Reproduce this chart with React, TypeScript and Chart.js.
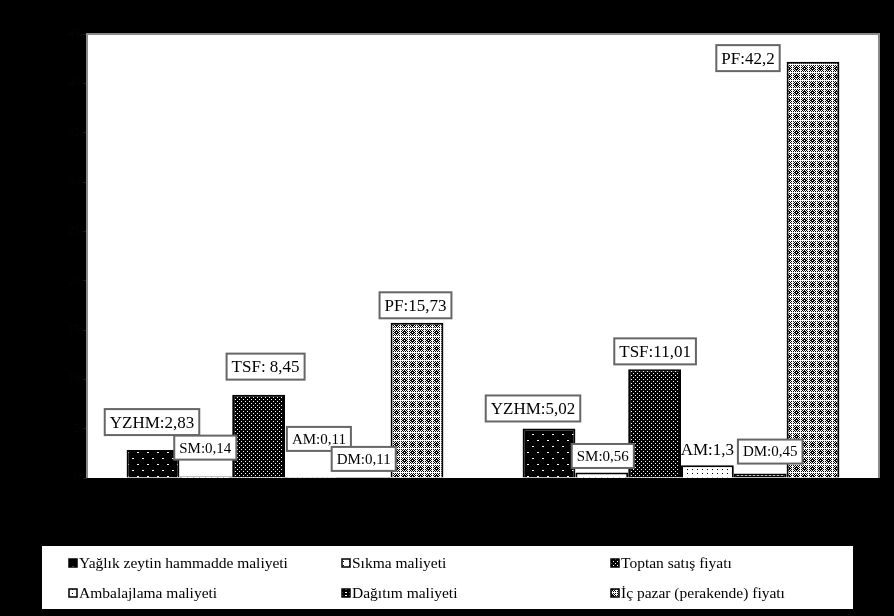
import React, { useEffect, useRef } from "react";
import { Chart, registerables } from "chart.js";
Chart.register(...registerables);

// ---- data ----
const categories = ["Grup 1", "Grup 2"];
const seriesNames = [
  "Yağlık zeytin hammadde maliyeti",
  "Sıkma maliyeti",
  "Toptan satış fiyatı",
  "Ambalajlama maliyeti",
  "Dağıtım maliyeti",
  "İç pazar (perakende) fiyatı",
];
const yzhmValues = [2.83, 5.02];
const smValues = [0.14, 0.56];
const tsfValues = [8.45, 11.01];
const amValues = [0.11, 1.3];
const dmValues = [0.11, 0.45];
const pfValues = [15.73, 42.2];

const yzhmLabels = ["YZHM:2,83", "YZHM:5,02"];
const smLabels = ["SM:0,14", "SM:0,56"];
const tsfLabels = ["TSF: 8,45", "TSF:11,01"];
const amLabels = ["AM:0,11", "AM:1,3"];
const dmLabels = ["DM:0,11", "DM:0,45"];
const pfLabels = ["PF:15,73", "PF:42,2"];

const yMin = 0;
const yMax = 45;
const yStep = 5;

// ---- label placement / style (not data) ----
// [dx, dy] of label box centre relative to bar top-centre
const labelOffsets = [
  [[-1, -28], [-16, -20]],
  [[-0.5, -29], [1, -16.5]],
  [[7, -28], [0.5, -18]],
  [[7.5, -38], [0, -16]],
  [[-0.5, -18], [10, -22]],
  [[-1.5, -17.5], [-65, -3.5]],
];
const labelFont = [
  [17, 17],
  [15, 15],
  [17, 17],
  [15, 17],
  [15, 15],
  [17, 17],
];
const labelBoxed = [
  [true, true],
  [true, true],
  [true, true],
  [true, false],
  [true, true],
  [true, true],
];

function makePattern(
  w: number,
  h: number,
  fn: (x: number, y: number) => boolean,
  on: string,
  off: string
) {
  const c = document.createElement("canvas");
  c.width = w;
  c.height = h;
  const g = c.getContext("2d")!;
  g.fillStyle = off;
  g.fillRect(0, 0, w, h);
  g.fillStyle = on;
  for (let y = 0; y < h; y++)
    for (let x = 0; x < w; x++) if (fn(x, y)) g.fillRect(x, y, 1, 1);
  return g.createPattern(c, "repeat")!;
}

export default function App() {
  const ref = useRef<HTMLCanvasElement>(null);
  useEffect(() => {
    const canvas = ref.current!;
    const patterns = [
      // sparse white dots on black
      makePattern(10, 12, (x, y) => (x === 2 && y === 2) || (x === 3 && y === 2) || (x === 7 && y === 8) || (x === 8 && y === 8), "#fff", "#000"),
      // sparse black dots on white
      makePattern(6, 4, (x, y) => x === 1 && y === 1, "#000", "#fff"),
      // dense white dots on black
      makePattern(4, 4, (x, y) => (x === 1 && y === 1) || (x === 3 && y === 3), "#fff", "#000"),
      // black dots on white
      makePattern(5, 4, (x, y) => (x === 2 && y === 1), "#000", "#fff"),
      // dark with small white spots
      makePattern(4, 3, (x, y) => y === 1 && (x === 1 || x === 2), "#fff", "#000"),
      // cross-hatch / checker with dark blocks
      makePattern(8, 8, (x, y) => {
        if (x >= 3 && x <= 5 && y >= 3 && y <= 5) return !(x === 4 && y === 4);
        if (x === 0 || y === 0) return false;
        return (x + y) % 2 === 0;
      }, "#000", "#fff"),
    ];
    const valuesList = [yzhmValues, smValues, tsfValues, amValues, dmValues, pfValues];
    const labelsList = [yzhmLabels, smLabels, tsfLabels, amLabels, dmLabels, pfLabels];

    const bgPlugin = {
      id: "bg",
      beforeDraw(chart: any) {
        const { ctx, chartArea: a } = chart;
        ctx.save();
        ctx.fillStyle = "#000";
        ctx.fillRect(0, 0, chart.width, chart.height);
        ctx.fillStyle = "#fff";
        ctx.fillRect(a.left, a.top, a.right - a.left, a.bottom - a.top);
        ctx.restore();
      },
      afterDatasetsDraw(chart: any) {
        const { ctx, chartArea: a } = chart;
        ctx.save();
        // plot border (top, left, right)
        ctx.strokeStyle = "#8a8a8a";
        ctx.lineWidth = 2;
        ctx.beginPath();
        ctx.moveTo(a.left, a.bottom);
        ctx.lineTo(a.left, a.top);
        ctx.lineTo(a.right, a.top);
        ctx.lineTo(a.right, a.bottom);
        ctx.stroke();
        // data labels
        ctx.textAlign = "center";
        ctx.textBaseline = "middle";
        for (let d = 0; d < valuesList.length; d++) {
          const meta = chart.getDatasetMeta(d);
          meta.data.forEach((bar: any, i: number) => {
            const [dx, dy] = labelOffsets[d][i];
            const fs = labelFont[d][i];
            const cx = bar.x + dx;
            const cy = bar.y + dy;
            ctx.font = `${fs}px "Liberation Serif", "Times New Roman", serif`;
            const text = labelsList[d][i];
            const tw = ctx.measureText(text).width;
            const bw = tw + 10;
            const bh = fs + 9;
            if (labelBoxed[d][i]) {
              ctx.fillStyle = "#fff";
              ctx.fillRect(cx - bw / 2, cy - bh / 2, bw, bh);
              ctx.strokeStyle = "#666";
              ctx.lineWidth = 2;
              ctx.strokeRect(cx - bw / 2, cy - bh / 2, bw, bh);
            }
            ctx.fillStyle = "#000";
            ctx.fillText(text, cx, cy + 1);
          });
        }
        ctx.restore();
      },
      afterDraw(chart: any) {
        const { ctx } = chart;
        ctx.save();
        // legend box
        const lx = 42, ly = 546, lw = 811, lh = 63;
        ctx.fillStyle = "#fff";
        ctx.fillRect(lx, ly, lw, lh);
        const colX = [69, 342, 611];
        const rowY = [563, 593];
        ctx.font = `15.5px "Liberation Serif", "Times New Roman", serif`;
        ctx.textAlign = "left";
        ctx.textBaseline = "middle";
        seriesNames.forEach((name, i) => {
          const x = colX[i % 3];
          const y = rowY[Math.floor(i / 3)];
          const ds = chart.data.datasets[i];
          ctx.fillStyle = ds.backgroundColor;
          ctx.fillRect(x, y - 4, 8, 8);
          ctx.strokeStyle = "#000";
          ctx.lineWidth = 1.5;
          ctx.strokeRect(x, y - 4, 8, 8);
          ctx.fillStyle = "#000";
          ctx.fillText(name, x + 10, y + 1);
        });
        ctx.restore();
      },
    };

    const chart = new Chart(canvas, {
      type: "bar",
      data: {
        labels: categories,
        datasets: valuesList.map((vals, i) => ({
          label: seriesNames[i],
          data: vals,
          backgroundColor: patterns[i] as any,
          borderColor: "#000",
          borderWidth: 2,
          categoryPercentage: 0.8,
          barPercentage: 1.0,
        })),
      },
      options: {
        responsive: false,
        animation: false,
        layout: { padding: { left: 57, right: 15, top: 34, bottom: 138 } },
        plugins: {
          legend: { display: false },
          tooltip: { enabled: false },
        },
        scales: {
          x: {
            grid: { display: false },
            border: { display: false },
            ticks: { display: false },
            afterFit: (s: any) => {
              s.height = 0;
            },
          },
          y: {
            min: yMin,
            max: yMax,
            ticks: {
              stepSize: yStep,
              color: "#060606",
              font: { size: 12, family: "Liberation Serif" },
              padding: 3,
            },
            grid: {
              drawOnChartArea: false,
              color: "#1a1a1a",
              tickLength: 4,
            },
            border: { display: false },
            afterFit: (s: any) => {
              s.width = 30;
            },
          },
        },
      },
      plugins: [bgPlugin],
    });
    return () => chart.destroy();
  }, []);

  return (
    <div
      style={{
        position: "absolute",
        left: 0,
        top: 0,
        width: 894,
        height: 616,
        background: "#000",
      }}
    >
      <canvas ref={ref} width={894} height={616} />
    </div>
  );
}
